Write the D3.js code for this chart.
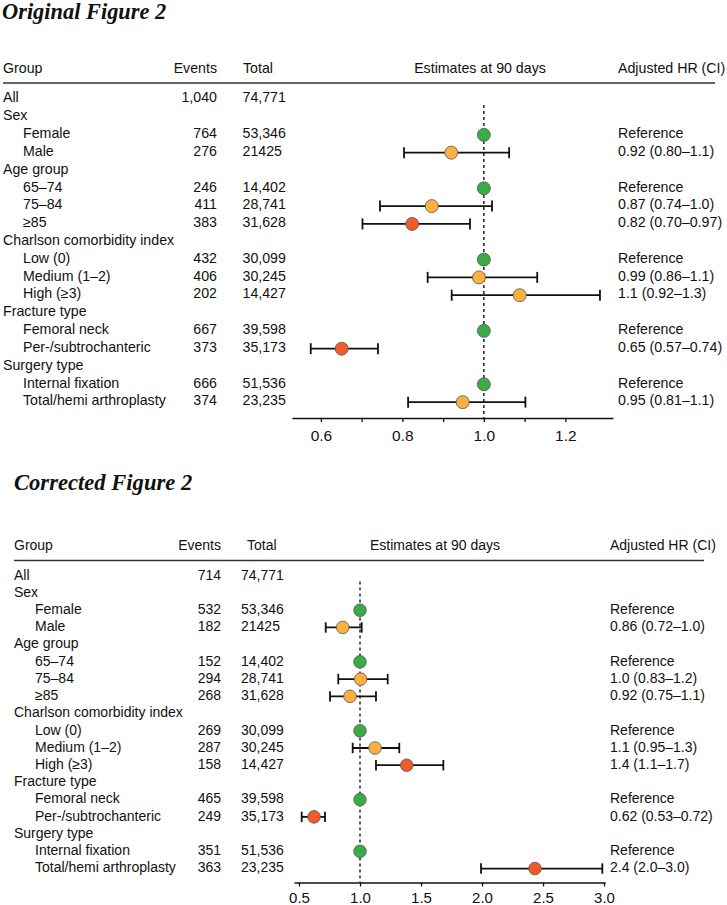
<!DOCTYPE html>
<html>
<head>
<meta charset="utf-8">
<script src="https://cdn.jsdelivr.net/npm/d3@7"></script>
<style>
  html, body { margin: 0; padding: 0; background: #fff; }
  svg { display: block; }
  .t { font-family: "Liberation Sans", Arial, Helvetica, sans-serif; fill: #111; }
  .title { font-family: "Liberation Serif", "Times New Roman", serif; font-weight: bold; font-style: italic; fill: #111; }
</style>
</head>
<body>
<svg id="chart" width="727" height="905"></svg>
<script>
// ---------- DATA ----------
const groupLabels = ["All", "Sex", "Female", "Male", "Age group", "65\u201374", "75\u201384", "\u226585",
  "Charlson comorbidity index", "Low (0)", "Medium (1\u20132)", "High (\u22653)",
  "Fracture type", "Femoral neck", "Per-/subtrochanteric", "Surgery type", "Internal fixation", "Total/hemi arthroplasty"];
const isSubRow = [false, false, true, true, false, true, true, true, false, true, true, true, false, true, true, false, true, true];
const totals = ["74,771", "", "53,346", "21425", "", "14,402", "28,741", "31,628", "", "30,099", "30,245", "14,427", "", "39,598", "35,173", "", "51,536", "23,235"];

// Original figure
const origEvents = ["1,040", "", "764", "276", "", "246", "411", "383", "", "432", "406", "202", "", "667", "373", "", "666", "374"];
const origHR = [null, null, 1, 0.92, null, 1, 0.872, 0.824, null, 1, 0.988, 1.088, null, 1, 0.651, null, 1, 0.948];
const origLo = [null, null, null, 0.804, null, null, 0.745, 0.702, null, null, 0.862, 0.921, null, null, 0.575, null, null, 0.814];
const origHi = [null, null, null, 1.062, null, null, 1.02, 0.966, null, null, 1.131, 1.285, null, null, 0.74, null, null, 1.102];
const origHRText = ["", "", "Reference", "0.92 (0.80\u20131.1)", "", "Reference", "0.87 (0.74\u20131.0)", "0.82 (0.70\u20130.97)", "",
  "Reference", "0.99 (0.86\u20131.1)", "1.1 (0.92\u20131.3)", "", "Reference", "0.65 (0.57\u20130.74)", "", "Reference", "0.95 (0.81\u20131.1)"];
const origClass = ["", "", "ref", "ns", "", "ref", "ns", "sig", "", "ref", "ns", "ns", "", "ref", "sig", "", "ref", "ns"];
const origTicks = [0.6, 0.7, 0.8, 0.9, 1.0, 1.1, 1.2];
const origTickLabels = ["0.6", "", "0.8", "", "1.0", "", "1.2"];

// Corrected figure
const corrEvents = ["714", "", "532", "182", "", "152", "294", "268", "", "269", "287", "158", "", "465", "249", "", "351", "363"];
const corrHR = [null, null, 1, 0.858, null, 1, 1.005, 0.918, null, 1, 1.123, 1.383, null, 1, 0.623, null, 1, 2.434];
const corrLo = [null, null, null, 0.719, null, null, 0.822, 0.754, null, null, 0.94, 1.131, null, null, 0.522, null, null, 1.992];
const corrHi = [null, null, null, 1.014, null, null, 1.227, 1.131, null, null, 1.322, 1.683, null, null, 0.713, null, null, 2.986];
const corrHRText = ["", "", "Reference", "0.86 (0.72\u20131.0)", "", "Reference", "1.0 (0.83\u20131.2)", "0.92 (0.75\u20131.1)", "",
  "Reference", "1.1 (0.95\u20131.3)", "1.4 (1.1\u20131.7)", "", "Reference", "0.62 (0.53\u20130.72)", "", "Reference", "2.4 (2.0\u20133.0)"];
const corrClass = ["", "", "ref", "ns", "", "ref", "ns", "ns", "", "ref", "ns", "sig", "", "ref", "sig", "", "ref", "sig"];
const corrTicks = [0.5, 1.0, 1.5, 2.0, 2.5, 3.0];
const corrTickLabels = ["0.5", "1.0", "1.5", "2.0", "2.5", "3.0"];

const headers = ["Group", "Events", "Total", "Estimates at 90 days", "Adjusted HR (CI)"];
const titles = ["Original Figure 2", "Corrected Figure 2"];

// ---------- STYLE ----------
const colorOf = { ref: "#3bab48", ns: "#fbb040", sig: "#f15a2b" };

const svg = d3.select("#chart");

function panel(cfg) {
  const g = svg.append("g");
  g.append("text").attr("class", "title").attr("x", cfg.titleX).attr("y", cfg.titleY)
    .attr("font-size", cfg.titleSize).text(cfg.title);

  // header
  const hs = cfg.fs;
  g.append("text").attr("class", "t").attr("x", cfg.groupX).attr("y", cfg.headY).attr("font-size", hs).text(headers[0]);
  g.append("text").attr("class", "t").attr("x", cfg.eventsR).attr("y", cfg.headY).attr("font-size", hs).attr("text-anchor", "end").text(headers[1]);
  g.append("text").attr("class", "t").attr("x", cfg.totalHeadX).attr("y", cfg.headY).attr("font-size", hs).text(headers[2]);
  g.append("text").attr("class", "t").attr("x", cfg.estX).attr("y", cfg.headY).attr("font-size", hs).attr("text-anchor", "middle").text(headers[3]);
  g.append("text").attr("class", "t").attr("x", cfg.hrX).attr("y", cfg.headY).attr("font-size", hs).text(headers[4]);
  g.append("line").attr("x1", cfg.groupX).attr("x2", cfg.ruleR).attr("y1", cfg.ruleY).attr("y2", cfg.ruleY)
    .attr("stroke", "#333").attr("stroke-width", 1.4);

  const y = d3.scaleLinear().domain([0, groupLabels.length - 1]).range([cfg.row0, cfg.rowN]);
  const x = d3.scaleLinear().domain(cfg.domain).range(cfg.range);

  const rows = groupLabels.map((lab, i) => ({
    i, lab, sub: isSubRow[i], ev: cfg.events[i], tot: totals[i],
    hr: cfg.hr[i], lo: cfg.lo[i], hi: cfg.hi[i], txt: cfg.hrText[i], cls: cfg.cls[i]
  }));

  const rg = g.append("g");
  rg.selectAll(".lab").data(rows).join("text").attr("class", "t")
    .attr("x", d => d.sub ? cfg.groupX + cfg.indent : cfg.groupX)
    .attr("y", d => y(d.i) + cfg.base).attr("font-size", cfg.fs).text(d => d.lab);
  rg.selectAll(".ev").data(rows).join("text").attr("class", "t")
    .attr("x", cfg.eventsR).attr("text-anchor", "end")
    .attr("y", d => y(d.i) + cfg.base).attr("font-size", cfg.fs).text(d => d.ev);
  rg.selectAll(".tot").data(rows).join("text").attr("class", "t")
    .attr("x", cfg.totalX)
    .attr("y", d => y(d.i) + cfg.base).attr("font-size", cfg.fs).text(d => d.tot);
  rg.selectAll(".hrt").data(rows).join("text").attr("class", "t")
    .attr("x", cfg.hrX)
    .attr("y", d => y(d.i) + cfg.base).attr("font-size", cfg.fs).text(d => d.txt);

  // axis
  const axisG = g.append("g").attr("transform", `translate(0,${cfg.axisY})`)
    .call(d3.axisBottom(x).tickValues(cfg.ticks).tickSize(4).tickSizeOuter(0).tickPadding(cfg.tickPad)
      .tickFormat((d, k) => cfg.tickLabels[k]));
  axisG.select(".domain").attr("stroke", "#111").attr("stroke-width", 1.3);
  axisG.selectAll(".tick line").attr("stroke", "#111").attr("stroke-width", 1.3);
  axisG.selectAll(".tick text").attr("font-family", "Liberation Sans, Arial, sans-serif")
    .attr("font-size", cfg.tickFs).attr("fill", "#111");

  // reference line
  g.append("line").attr("x1", x(1)).attr("x2", x(1)).attr("y1", cfg.dashTop).attr("y2", cfg.axisY)
    .attr("stroke", "#111").attr("stroke-width", 1.4).attr("stroke-dasharray", "3,3");

  const pts = rows.filter(d => d.hr != null);
  const ci = pts.filter(d => d.lo != null);
  const py = d => y(d.i) + cfg.ptOff;
  g.append("g").selectAll("line").data(ci).join("line")
    .attr("x1", d => x(d.lo)).attr("x2", d => x(d.hi)).attr("y1", py).attr("y2", py)
    .attr("stroke", "#111").attr("stroke-width", 1.8);
  g.append("g").selectAll("line").data(ci.flatMap(d => [{ d, v: d.lo }, { d, v: d.hi }])).join("line")
    .attr("x1", e => x(e.v)).attr("x2", e => x(e.v))
    .attr("y1", e => py(e.d) - cfg.cap).attr("y2", e => py(e.d) + cfg.cap)
    .attr("stroke", "#111").attr("stroke-width", 1.8);
  g.append("g").selectAll("circle").data(pts).join("circle")
    .attr("cx", d => x(d.hr)).attr("cy", py).attr("r", cfg.r)
    .attr("fill", d => colorOf[d.cls]).attr("stroke", "#555").attr("stroke-width", 0.8);
}

panel({
  title: titles[0], titleX: 2, titleY: 19, titleSize: 22.4,
  fs: 14.2, groupX: 3, indent: 20, eventsR: 217, totalHeadX: 243, totalX: 242.5, estX: 480, hrX: 618,
  headY: 73, ruleY: 83, ruleR: 715, row0: 97.4, rowN: 97.4 + 17 * 17.82, base: 5, ptOff: 1.8,
  events: origEvents, hr: origHR, lo: origLo, hi: origHi, hrText: origHRText, cls: origClass,
  domain: [0.529, 1.317], range: [292, 613], axisY: 418, ticks: origTicks, tickLabels: origTickLabels,
  tickPad: 8, tickFs: 15.5, dashTop: 105, r: 6.5, cap: 5.5
});

panel({
  title: titles[1], titleX: 14, titleY: 490, titleSize: 22.6,
  fs: 14, groupX: 14, indent: 21, eventsR: 221, totalHeadX: 247, totalX: 241, estX: 435, hrX: 610,
  headY: 550, ruleY: 560.5, ruleR: 704, row0: 574.6, rowN: 574.6 + 17 * 17.22, base: 5, ptOff: 1.2,
  events: corrEvents, hr: corrHR, lo: corrLo, hi: corrHi, hrText: corrHRText, cls: corrClass,
  domain: [0.459, 3.008], range: [294, 605], axisY: 882.5, ticks: corrTicks, tickLabels: corrTickLabels,
  tickPad: 6, tickFs: 15, dashTop: 581.5, r: 6.3, cap: 5.2
});
</script>
</body>
</html>
